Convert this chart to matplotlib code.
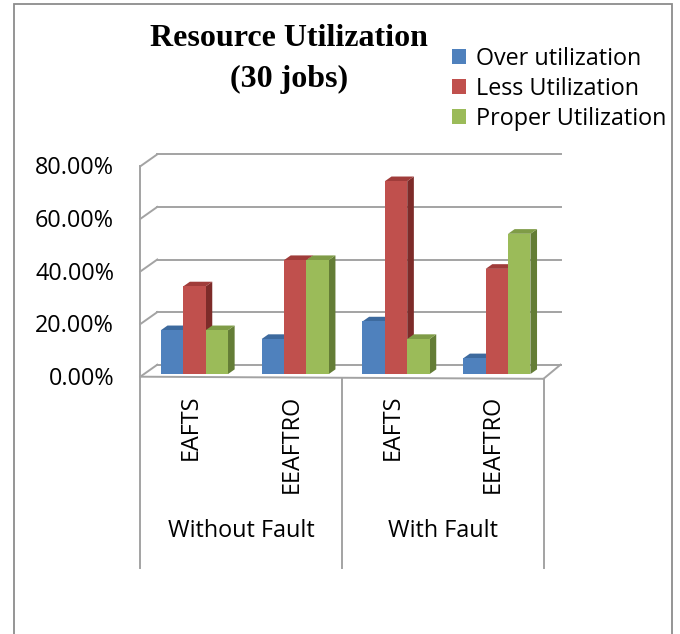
import matplotlib
matplotlib.use("Agg")
import matplotlib.pyplot as plt
from matplotlib.patches import Polygon, Rectangle, Patch

# ---------------- data ----------------
categories = ["EAFTS", "EEAFTRO", "EAFTS", "EEAFTRO"]
groups = ["Without Fault", "With Fault"]
series_names = ["Over utilization", "Less Utilization", "Proper Utilization"]
over_util = [16.67, 13.33, 20.00, 6.00]
less_util = [33.33, 43.33, 73.33, 40.00]
proper_util = [16.67, 43.33, 13.33, 53.33]
yticks = [0, 20, 40, 60, 80]
ytick_labels = ["0.00%", "20.00%", "40.00%", "60.00%", "80.00%"]
title_lines = ["Resource Utilization", "(30 jobs)"]

# ---------------- style / layout ----------------
W, H = 680, 634
DPI = 100
front_face = ["#4F81BD", "#C0504D", "#9BBB59"]
top_face = ["#3D6A9E", "#A03C3A", "#7F9C47"]
side_face = ["#2F5683", "#7D2B29", "#647D36"]
grid_col = "#A3A3A3"
TXT_FONT = ["Open Sans", "DejaVu Sans"]
TITLE_FONT = ["Liberation Serif", "DejaVu Serif"]
FS = 16.8

PX_X0 = 140.3   # pixel of front-left plane edge (x=-0.5)
UNIT_X = 100.8  # pixels per category
PX_Y0 = 376.7   # pixel (from top) of front floor (y=0)
UNIT_Y = 2.63   # pixels per percent
DX = 17.0 / UNIT_X   # wall depth offset (category units)
DY = 12.0 / UNIT_Y   # wall depth offset (percent units)
F0, DEP = 0.22, 0.39  # bar front depth fraction, bar depth fraction
BAR_W = 0.222
YMAX = 80

fig = plt.figure(figsize=(W / DPI, H / DPI), dpi=DPI)
ax = fig.add_axes([0, 0, 1, 1])
ax.set_xlim(-0.5 - PX_X0 / UNIT_X, -0.5 + (W - PX_X0) / UNIT_X)
ax.set_ylim(-(H - PX_Y0) / UNIT_Y, PX_Y0 / UNIT_Y)
ax.axis("off")

# outer chart border
fig.patches.append(Rectangle((14 / W, -0.01), (672 - 14) / W, 1 - 4 / H + 0.01,
                             transform=fig.transFigure, fill=False,
                             edgecolor="#8C8C8C", linewidth=1.3))

n = len(categories)
xl, xr = -0.5, n - 0.5

# back wall gridlines + left wall diagonals
for v in yticks:
    ax.plot([xl + DX, xr + DX], [v + DY, v + DY], color=grid_col, lw=1.4, zorder=1)
    ax.plot([xl, xl + DX], [v, v + DY], color=grid_col, lw=1.4, zorder=1)
# front vertical axis line
ax.plot([xl, xl], [0, YMAX], color=grid_col, lw=1.4, zorder=1)
# floor front edge and right diagonal
ax.plot([xl, xr], [0, -0.8], color=grid_col, lw=1.4, zorder=1)
ax.plot([xr, xr + DX], [-0.8, DY], color=grid_col, lw=1.4, zorder=1)

# category separators (multi-level axis)
sep_bottom = -(568 - PX_Y0) / UNIT_Y
for k, xs in enumerate([xl, xl + 2, xr]):
    ax.plot([xs, xs], [-0.4 * k, sep_bottom], color=grid_col, lw=1.4, zorder=1)

# 3D bars
series = [over_util, less_util, proper_util]
base = F0 * DY
for i in range(n):
    for j, vals in enumerate(series):
        v = vals[i]
        x0 = i - 1.5 * BAR_W + j * BAR_W + F0 * DX
        x1 = x0 + BAR_W
        top = base + v
        ddx, ddy = DEP * DX, DEP * DY
        side = Polygon([(x1, base), (x1 + ddx, base + ddy), (x1 + ddx, top + ddy), (x1, top)],
                       closed=True, facecolor=side_face[j], edgecolor="none", zorder=2)
        topp = Polygon([(x0, top), (x1, top), (x1 + ddx, top + ddy), (x0 + ddx, top + ddy)],
                       closed=True, facecolor=top_face[j], edgecolor="none", zorder=2)
        ax.add_patch(side)
        ax.add_patch(topp)
        ax.bar(x0, v, width=BAR_W, bottom=base, align="edge", color=front_face[j],
               edgecolor="none", zorder=2)

# y tick labels
for v, lab in zip(yticks, ytick_labels):
    ax.text(xl - (PX_X0 - 114) / UNIT_X, v - 0.8, lab, ha="right", va="center",
            fontsize=FS, family=TXT_FONT, color="black")

# category labels
for i, c in enumerate(categories):
    ax.text(i, -(395 - PX_Y0) / UNIT_Y, c, rotation=90, ha="center", va="top",
            fontsize=FS, family=TXT_FONT)
for g, gname in enumerate(groups):
    ax.text(0.5 + 2 * g, -(531 - PX_Y0) / UNIT_Y, gname, ha="center", va="center",
            fontsize=FS, family=TXT_FONT)

# title
fig.text(289 / W, 1 - 39 / H, title_lines[0], ha="center", va="center",
         fontsize=23, fontweight="bold", family=TITLE_FONT)
fig.text(289 / W, 1 - 79 / H, title_lines[1], ha="center", va="center",
         fontsize=23, fontweight="bold", family=TITLE_FONT)

# legend
handles = [Patch(facecolor=front_face[j], edgecolor="none") for j in range(3)]
leg = fig.legend(handles, series_names, loc="upper left",
                 bbox_to_anchor=(452 / W, 1 - 47 / H), frameon=False,
                 prop={"family": TXT_FONT, "size": FS}, handlelength=0.62,
                 handleheight=0.62, handletextpad=0.4, labelspacing=0.26,
                 borderpad=0, borderaxespad=0)

fig.savefig("out.png", dpi=DPI)
